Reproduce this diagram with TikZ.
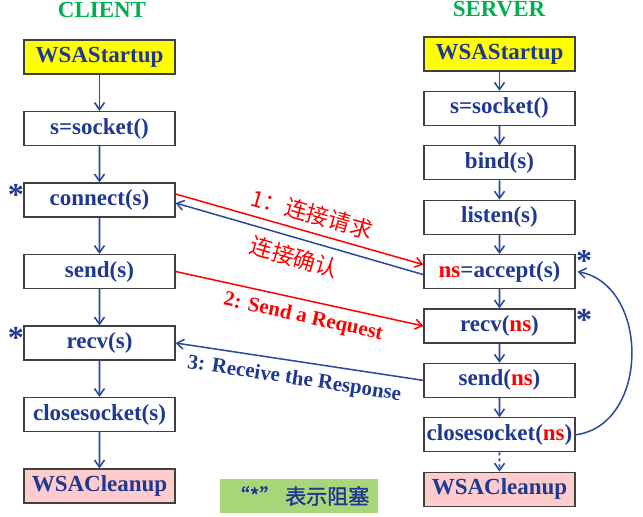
\documentclass[tikz,border=0pt]{standalone}
\usepackage{fontspec}
\setmainfont{Liberation Serif}
\newfontfamily\cjk{Noto Sans CJK SC}
\newfontfamily\cjkbold[FakeBold=1.5]{Noto Sans CJK SC}
\usetikzlibrary{arrows.meta}
\definecolor{txtblue}{RGB}{31,56,146}
\definecolor{lineblue}{RGB}{42,72,158}
\definecolor{boxgray}{RGB}{64,64,64}
\definecolor{titlegreen}{RGB}{0,176,80}
\definecolor{startyellow}{RGB}{255,255,0}
\definecolor{cleanpink}{RGB}{255,204,204}
\definecolor{notegreen}{RGB}{170,214,122}

\begin{document}
\begin{tikzpicture}
  [x=1pt, y=1pt, >={Straight Barb[length=7pt,width=10pt]},
   sockbox/.style={draw=boxgray, line width=1.2pt, fill=white, minimum width=151pt, minimum height=34pt,
     inner sep=1pt, text=txtblue, font=\fontsize{23}{23}\selectfont\bfseries},
   startbox/.style={sockbox, fill=startyellow},
   cleanbox/.style={sockbox, fill=cleanpink},
   every child node/.style={sockbox},
   edge from parent/.style={draw=lineblue, line width=1.6pt, ->},
   blockstar/.style={text=txtblue, inner sep=0pt, font=\fontsize{32}{32}\selectfont\bfseries},
   title/.style={text=titlegreen, inner sep=0pt, font=\fontsize{23}{23}\selectfont\bfseries},
   msg/.style={line width=1.5pt, ->},
   msglabel/.style={sloped, inner sep=0pt, font=\fontsize{21}{21}\selectfont\bfseries},
   cjklabel/.style={sloped, inner sep=0pt, text=red, font=\fontsize{22.5}{22.5}\selectfont\cjk}]
  \useasboundingbox (0,0) rectangle (643,-517);
  % titles
  \node[title] (ctitle) at (102,-9.5) {CLIENT};
  \node[title] (stitle) at (499,-9.5) {SERVER};
  % client
  \node[startbox] (cstart) at (99.5,-57) {WSAStartup} [level distance=71.5pt]
    child {node (csock) {s=socket()}
      child {node (cconn) {connect(s)}
        child {node (csend) {send(s)}
          child {node (crecv) {recv(s)}
            child {node (cclose) {closesocket(s)}
              child {node[cleanbox] (cclean) {WSACleanup}}
            }
          }
        }
      }
    };
  % server
  \node[startbox] (sstart) at (499.5,-54) {WSAStartup} [level distance=54.4pt]
    child {node (ssock) {s=socket()}
      child {node (sbind) {bind(s)}
        child {node (slisten) {listen(s)}
          child {node (saccept) {\textcolor{red}{ns}=accept(s)}
            child {node (srecv) {recv(\textcolor{red}{ns})}
              child {node (ssend) {send(\textcolor{red}{ns})}
                child {node (sclose) {closesocket(\textcolor{red}{ns})}
                  child {node[cleanbox] (sclean) {WSACleanup} edge from parent[dashed]}
                }
              }
            }
          }
        }
      }
    };
  % messages
  \draw[msg, red] ([yshift=6pt]cconn.east) -- node[cjklabel, above=7pt, pos=0.53] {\textit{1}：连接请求} ([yshift=7pt]saccept.west);
  \draw[msg, lineblue] ([yshift=-3pt]saccept.west) -- node[cjklabel, below=8pt, pos=0.5] {连接确认} ([yshift=-3pt]cconn.east);
  \draw[msg, red] (csend.east) -- node[msglabel, text=red, below=7pt, pos=0.53] {2: Send a Request} (srecv.west);
  \draw[msg, lineblue] (ssend.west) -- node[msglabel, text=txtblue, below=8pt, pos=0.51] {3: Receive the Response} (crecv.east);
  \draw[msg, lineblue] (sclose.east) .. controls (650,-425) and (650,-285) .. ([xshift=2pt]saccept.east);
  % blocking marks
  \node[blockstar] (star1) at (16,-195) {*};
  \node[blockstar] (star2) at (16,-338) {*};
  \node[blockstar] (star3) at (584,-261) {*};
  \node[blockstar] (star4) at (584,-320) {*};
  % note
  \node[fill=notegreen, minimum width=158pt, minimum height=34pt, text=txtblue,
    font=\fontsize{21}{21}\selectfont\cjkbold] (note) at (299,-496) {“*” 表示阻塞};
\end{tikzpicture}
\end{document}
